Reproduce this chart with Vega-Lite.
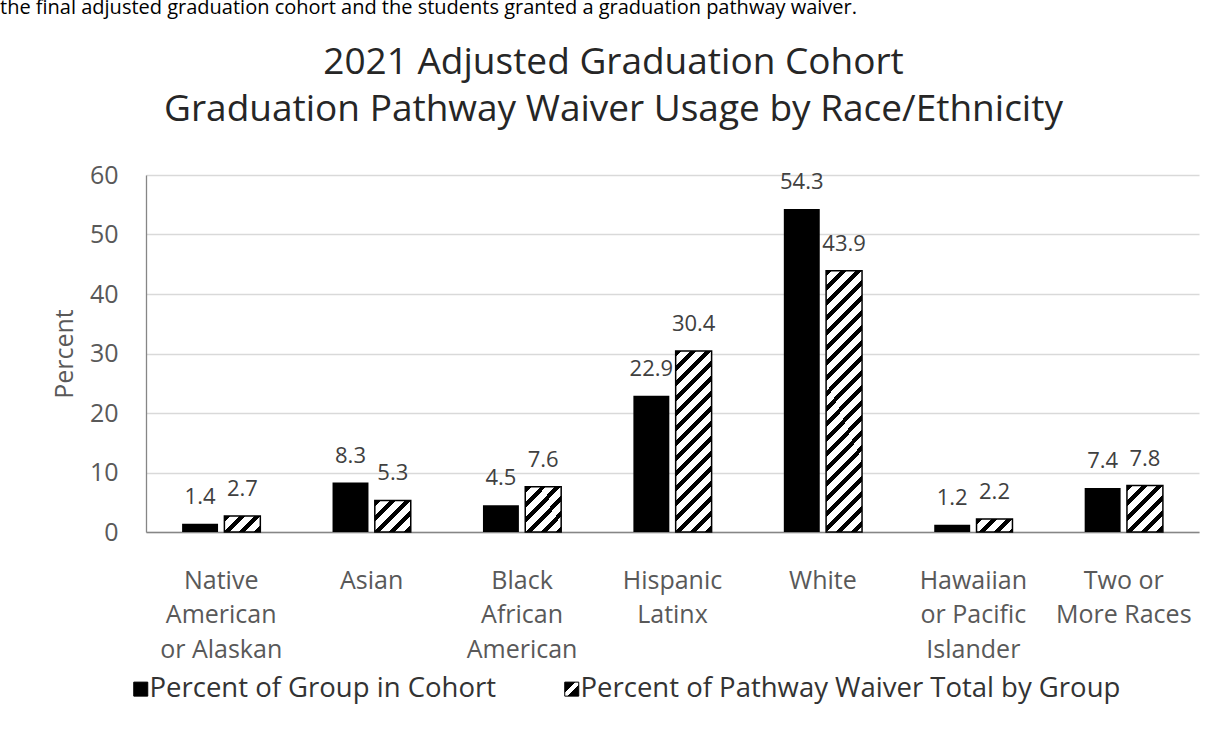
{
  "$schema": "https://vega.github.io/schema/vega-lite/v6.json",
  "width": 1053,
  "height": 357,
  "autosize": {"type": "none"},
  "padding": {"left": 146, "top": 175, "right": 23, "bottom": 223},
  "background": "white",
  "config": {"font": "Open Sans", "view": {"stroke": null}},
  "title": {
    "text": "the final adjusted graduation cohort and the students granted a graduation pathway waiver.",
    "anchor": "start", "frame": "group", "dx": -146, "offset": 25,
    "fontSize": 20, "fontWeight": "normal", "font": "Open Sans", "color": "#000000"
  },
  "data": {
    "values": [
      {"cat": "Native American or Alaskan", "series": "Percent of Group in Cohort", "value": 1.4},
      {"cat": "Asian", "series": "Percent of Group in Cohort", "value": 8.3},
      {"cat": "Black African American", "series": "Percent of Group in Cohort", "value": 4.5},
      {"cat": "Hispanic Latinx", "series": "Percent of Group in Cohort", "value": 22.9},
      {"cat": "White", "series": "Percent of Group in Cohort", "value": 54.3},
      {"cat": "Hawaiian or Pacific Islander", "series": "Percent of Group in Cohort", "value": 1.2},
      {"cat": "Two or More Races", "series": "Percent of Group in Cohort", "value": 7.4},
      {"cat": "Native American or Alaskan", "series": "Percent of Pathway Waiver Total by Group", "value": 2.7},
      {"cat": "Asian", "series": "Percent of Pathway Waiver Total by Group", "value": 5.3},
      {"cat": "Black African American", "series": "Percent of Pathway Waiver Total by Group", "value": 7.6},
      {"cat": "Hispanic Latinx", "series": "Percent of Pathway Waiver Total by Group", "value": 30.4},
      {"cat": "White", "series": "Percent of Pathway Waiver Total by Group", "value": 43.9},
      {"cat": "Hawaiian or Pacific Islander", "series": "Percent of Pathway Waiver Total by Group", "value": 2.2},
      {"cat": "Two or More Races", "series": "Percent of Pathway Waiver Total by Group", "value": 7.8}
    ]
  },
  "resolve": {"axis": {"x": "independent"}},
  "layer": [
    {
      "transform": [{"filter": "datum.series == 'Percent of Group in Cohort'"}],
      "mark": {"type": "bar"},
      "encoding": {
        "x": {
          "field": "cat", "type": "nominal",
          "scale": {"domain": ["Native American or Alaskan", "Asian", "Black African American", "Hispanic Latinx", "White", "Hawaiian or Pacific Islander", "Two or More Races"], "paddingInner": 0.48, "paddingOuter": 0.24},
          "axis": {
            "title": null, "labelAngle": 0,
            "labelExpr": "{'Native American or Alaskan': ['Native', 'American', 'or Alaskan'], 'Asian': 'Asian', 'Black African American': ['Black', 'African', 'American'], 'Hispanic Latinx': ['Hispanic', 'Latinx'], 'White': 'White', 'Hawaiian or Pacific Islander': ['Hawaiian', 'or Pacific', 'Islander'], 'Two or More Races': ['Two or', 'More Races']}[datum.value]",
            "labelFontSize": 25, "labelColor": "#595959", "labelLineHeight": 34.5, "labelPadding": 36, "labelBaseline": "top",
            "ticks": false, "domainColor": "#868686", "domainWidth": 1.3, "labelLimit": 300
          }
        },
        "xOffset": {"field": "series", "type": "nominal", "scale": {"domain": ["Percent of Group in Cohort", "Percent of Pathway Waiver Total by Group"], "paddingInner": 0.15}},
        "y": {
          "field": "value", "type": "quantitative",
          "scale": {"domain": [0, 60], "nice": false},
          "axis": {
            "title": "Percent", "titleFontSize": 25, "titleFontWeight": "normal", "titleColor": "#595959",
            "titleX": -74, "titleBaseline": "alphabetic",
            "values": [0, 10, 20, 30, 40, 50, 60],
            "labelFontSize": 25, "labelColor": "#595959", "labelPadding": 28,
            "ticks": false, "grid": true, "gridColor": "#d9d9d9", "gridWidth": 1.3,
            "domainColor": "#868686", "domainWidth": 1.3
          }
        },
        "fill": {
          "field": "series", "type": "nominal",
          "scale": {"domain": ["Percent of Group in Cohort", "Percent of Pathway Waiver Total by Group"], "range": ["#000000", "url(#hatchLeg)"]},
          "legend": {
            "title": null, "orient": "none", "legendX": -19, "legendY": 500, "direction": "horizontal",
            "symbolType": "square", "symbolSize": 196, "symbolStrokeColor": "#000000", "symbolStrokeWidth": 1,
            "labelFontSize": 27.5, "labelColor": "#333333", "labelOffset": -5, "columnPadding": 62, "labelLimit": 800
          }
        }
      }
    },
    {
      "transform": [{"filter": "datum.series == 'Percent of Pathway Waiver Total by Group'"}],
      "mark": {"type": "bar", "stroke": "#000000", "strokeWidth": 1.5},
      "encoding": {
        "x": {"field": "cat", "type": "nominal", "axis": null},
        "xOffset": {"field": "series", "type": "nominal"},
        "y": {"field": "value", "type": "quantitative"},
        "fill": {
          "condition": [
            {"test": "datum.cat == 'Native American or Alaskan'", "value": {"gradient": "linear", "x1": 0, "y1": 0, "x2": 1.206, "y2": 0.5377, "stops": [
              {"offset": 0, "color": "#000"}, {"offset": 0.1153, "color": "#000"}, {"offset": 0.1153, "color": "#fff"}, {"offset": 0.2882, "color": "#fff"},
              {"offset": 0.2882, "color": "#000"}, {"offset": 0.4035, "color": "#000"}, {"offset": 0.4035, "color": "#fff"}, {"offset": 0.5764, "color": "#fff"},
              {"offset": 0.5764, "color": "#000"}, {"offset": 0.6917, "color": "#000"}, {"offset": 0.6917, "color": "#fff"}, {"offset": 0.8646, "color": "#fff"},
              {"offset": 0.8646, "color": "#000"}, {"offset": 0.9799, "color": "#000"}, {"offset": 0.9799, "color": "#fff"}, {"offset": 1, "color": "#fff"}]}},
            {"test": "datum.cat == 'Asian'", "value": {"gradient": "linear", "x1": 0, "y1": 0, "x2": 1.0618, "y2": 0.9294, "stops": [
              {"offset": 0, "color": "#000"}, {"offset": 0.0889, "color": "#000"}, {"offset": 0.0889, "color": "#fff"}, {"offset": 0.2222, "color": "#fff"},
              {"offset": 0.2222, "color": "#000"}, {"offset": 0.3111, "color": "#000"}, {"offset": 0.3111, "color": "#fff"}, {"offset": 0.4444, "color": "#fff"},
              {"offset": 0.4444, "color": "#000"}, {"offset": 0.5333, "color": "#000"}, {"offset": 0.5333, "color": "#fff"}, {"offset": 0.6667, "color": "#fff"},
              {"offset": 0.6667, "color": "#000"}, {"offset": 0.7556, "color": "#000"}, {"offset": 0.7556, "color": "#fff"}, {"offset": 0.8889, "color": "#fff"},
              {"offset": 0.8889, "color": "#000"}, {"offset": 0.9778, "color": "#000"}, {"offset": 0.9778, "color": "#fff"}, {"offset": 1, "color": "#fff"}]}},
            {"test": "datum.cat == 'Black African American'", "value": {"gradient": "linear", "x1": 0, "y1": 0, "x2": 0.8757, "y2": 1.0991, "stops": [
              {"offset": 0, "color": "#000"}, {"offset": 0.0739, "color": "#000"}, {"offset": 0.0739, "color": "#fff"}, {"offset": 0.1848, "color": "#fff"},
              {"offset": 0.1848, "color": "#000"}, {"offset": 0.2587, "color": "#000"}, {"offset": 0.2587, "color": "#fff"}, {"offset": 0.3696, "color": "#fff"},
              {"offset": 0.3696, "color": "#000"}, {"offset": 0.4435, "color": "#000"}, {"offset": 0.4435, "color": "#fff"}, {"offset": 0.5543, "color": "#fff"},
              {"offset": 0.5543, "color": "#000"}, {"offset": 0.6282, "color": "#000"}, {"offset": 0.6282, "color": "#fff"}, {"offset": 0.7391, "color": "#fff"},
              {"offset": 0.7391, "color": "#000"}, {"offset": 0.8130, "color": "#000"}, {"offset": 0.8130, "color": "#fff"}, {"offset": 0.9239, "color": "#fff"},
              {"offset": 0.9239, "color": "#000"}, {"offset": 0.9978, "color": "#000"}, {"offset": 0.9978, "color": "#fff"}, {"offset": 1, "color": "#fff"}]}},
            {"test": "datum.cat == 'Hispanic Latinx'", "value": {"gradient": "linear", "x1": 0, "y1": 0, "x2": 0.2298, "y2": 1.1535, "stops": [
              {"offset": 0, "color": "#000"}, {"offset": 0.0277, "color": "#000"}, {"offset": 0.0277, "color": "#fff"}, {"offset": 0.0692, "color": "#fff"},
              {"offset": 0.0692, "color": "#000"}, {"offset": 0.0969, "color": "#000"}, {"offset": 0.0969, "color": "#fff"}, {"offset": 0.1384, "color": "#fff"},
              {"offset": 0.1384, "color": "#000"}, {"offset": 0.1661, "color": "#000"}, {"offset": 0.1661, "color": "#fff"}, {"offset": 0.2076, "color": "#fff"},
              {"offset": 0.2076, "color": "#000"}, {"offset": 0.2353, "color": "#000"}, {"offset": 0.2353, "color": "#fff"}, {"offset": 0.2768, "color": "#fff"},
              {"offset": 0.2768, "color": "#000"}, {"offset": 0.3045, "color": "#000"}, {"offset": 0.3045, "color": "#fff"}, {"offset": 0.3461, "color": "#fff"},
              {"offset": 0.3461, "color": "#000"}, {"offset": 0.3737, "color": "#000"}, {"offset": 0.3737, "color": "#fff"}, {"offset": 0.4153, "color": "#fff"},
              {"offset": 0.4153, "color": "#000"}, {"offset": 0.4429, "color": "#000"}, {"offset": 0.4429, "color": "#fff"}, {"offset": 0.4845, "color": "#fff"},
              {"offset": 0.4845, "color": "#000"}, {"offset": 0.5122, "color": "#000"}, {"offset": 0.5122, "color": "#fff"}, {"offset": 0.5537, "color": "#fff"},
              {"offset": 0.5537, "color": "#000"}, {"offset": 0.5814, "color": "#000"}, {"offset": 0.5814, "color": "#fff"}, {"offset": 0.6229, "color": "#fff"},
              {"offset": 0.6229, "color": "#000"}, {"offset": 0.6506, "color": "#000"}, {"offset": 0.6506, "color": "#fff"}, {"offset": 0.6921, "color": "#fff"},
              {"offset": 0.6921, "color": "#000"}, {"offset": 0.7198, "color": "#000"}, {"offset": 0.7198, "color": "#fff"}, {"offset": 0.7613, "color": "#fff"},
              {"offset": 0.7613, "color": "#000"}, {"offset": 0.7890, "color": "#000"}, {"offset": 0.7890, "color": "#fff"}, {"offset": 0.8305, "color": "#fff"},
              {"offset": 0.8305, "color": "#000"}, {"offset": 0.8582, "color": "#000"}, {"offset": 0.8582, "color": "#fff"}, {"offset": 0.8997, "color": "#fff"},
              {"offset": 0.8997, "color": "#000"}, {"offset": 0.9274, "color": "#000"}, {"offset": 0.9274, "color": "#fff"}, {"offset": 0.9689, "color": "#fff"},
              {"offset": 0.9689, "color": "#000"}, {"offset": 0.9966, "color": "#000"}, {"offset": 0.9966, "color": "#fff"}, {"offset": 1, "color": "#fff"}]}},
            {"test": "datum.cat == 'White'", "value": {"gradient": "linear", "x1": 0, "y1": 0, "x2": 0.1540, "y2": 1.1167, "stops": [
              {"offset": 0, "color": "#000"}, {"offset": 0.0202, "color": "#000"}, {"offset": 0.0202, "color": "#fff"}, {"offset": 0.0505, "color": "#fff"},
              {"offset": 0.0505, "color": "#000"}, {"offset": 0.0707, "color": "#000"}, {"offset": 0.0707, "color": "#fff"}, {"offset": 0.1010, "color": "#fff"},
              {"offset": 0.1010, "color": "#000"}, {"offset": 0.1212, "color": "#000"}, {"offset": 0.1212, "color": "#fff"}, {"offset": 0.1515, "color": "#fff"},
              {"offset": 0.1515, "color": "#000"}, {"offset": 0.1717, "color": "#000"}, {"offset": 0.1717, "color": "#fff"}, {"offset": 0.2020, "color": "#fff"},
              {"offset": 0.2020, "color": "#000"}, {"offset": 0.2222, "color": "#000"}, {"offset": 0.2222, "color": "#fff"}, {"offset": 0.2525, "color": "#fff"},
              {"offset": 0.2525, "color": "#000"}, {"offset": 0.2727, "color": "#000"}, {"offset": 0.2727, "color": "#fff"}, {"offset": 0.3030, "color": "#fff"},
              {"offset": 0.3030, "color": "#000"}, {"offset": 0.3232, "color": "#000"}, {"offset": 0.3232, "color": "#fff"}, {"offset": 0.3535, "color": "#fff"},
              {"offset": 0.3535, "color": "#000"}, {"offset": 0.3737, "color": "#000"}, {"offset": 0.3737, "color": "#fff"}, {"offset": 0.4041, "color": "#fff"},
              {"offset": 0.4041, "color": "#000"}, {"offset": 0.4243, "color": "#000"}, {"offset": 0.4243, "color": "#fff"}, {"offset": 0.4546, "color": "#fff"},
              {"offset": 0.4546, "color": "#000"}, {"offset": 0.4748, "color": "#000"}, {"offset": 0.4748, "color": "#fff"}, {"offset": 0.5051, "color": "#fff"},
              {"offset": 0.5051, "color": "#000"}, {"offset": 0.5253, "color": "#000"}, {"offset": 0.5253, "color": "#fff"}, {"offset": 0.5556, "color": "#fff"},
              {"offset": 0.5556, "color": "#000"}, {"offset": 0.5758, "color": "#000"}, {"offset": 0.5758, "color": "#fff"}, {"offset": 0.6061, "color": "#fff"},
              {"offset": 0.6061, "color": "#000"}, {"offset": 0.6263, "color": "#000"}, {"offset": 0.6263, "color": "#fff"}, {"offset": 0.6566, "color": "#fff"},
              {"offset": 0.6566, "color": "#000"}, {"offset": 0.6768, "color": "#000"}, {"offset": 0.6768, "color": "#fff"}, {"offset": 0.7071, "color": "#fff"},
              {"offset": 0.7071, "color": "#000"}, {"offset": 0.7273, "color": "#000"}, {"offset": 0.7273, "color": "#fff"}, {"offset": 0.7576, "color": "#fff"},
              {"offset": 0.7576, "color": "#000"}, {"offset": 0.7778, "color": "#000"}, {"offset": 0.7778, "color": "#fff"}, {"offset": 0.8081, "color": "#fff"},
              {"offset": 0.8081, "color": "#000"}, {"offset": 0.8283, "color": "#000"}, {"offset": 0.8283, "color": "#fff"}, {"offset": 0.8586, "color": "#fff"},
              {"offset": 0.8586, "color": "#000"}, {"offset": 0.8788, "color": "#000"}, {"offset": 0.8788, "color": "#fff"}, {"offset": 0.9091, "color": "#fff"},
              {"offset": 0.9091, "color": "#000"}, {"offset": 0.9293, "color": "#000"}, {"offset": 0.9293, "color": "#fff"}, {"offset": 0.9596, "color": "#fff"},
              {"offset": 0.9596, "color": "#000"}, {"offset": 0.9798, "color": "#000"}, {"offset": 0.9798, "color": "#fff"}, {"offset": 1, "color": "#fff"}]}},
            {"test": "datum.cat == 'Hawaiian or Pacific Islander'", "value": {"gradient": "linear", "x1": 0, "y1": 0, "x2": 1.2043, "y2": 0.4376, "stops": [
              {"offset": 0, "color": "#000"}, {"offset": 0.1222, "color": "#000"}, {"offset": 0.1222, "color": "#fff"}, {"offset": 0.3056, "color": "#fff"},
              {"offset": 0.3056, "color": "#000"}, {"offset": 0.4279, "color": "#000"}, {"offset": 0.4279, "color": "#fff"}, {"offset": 0.6112, "color": "#fff"},
              {"offset": 0.6112, "color": "#000"}, {"offset": 0.7335, "color": "#000"}, {"offset": 0.7335, "color": "#fff"}, {"offset": 0.9169, "color": "#fff"},
              {"offset": 0.9169, "color": "#000"}, {"offset": 1, "color": "#000"}]}}
          ],
          "value": {"gradient": "linear", "x1": 0, "y1": 0, "x2": 0.8605, "y2": 1.1083, "stops": [
            {"offset": 0, "color": "#000"}, {"offset": 0.0728, "color": "#000"}, {"offset": 0.0728, "color": "#fff"}, {"offset": 0.1821, "color": "#fff"},
            {"offset": 0.1821, "color": "#000"}, {"offset": 0.2550, "color": "#000"}, {"offset": 0.2550, "color": "#fff"}, {"offset": 0.3642, "color": "#fff"},
            {"offset": 0.3642, "color": "#000"}, {"offset": 0.4371, "color": "#000"}, {"offset": 0.4371, "color": "#fff"}, {"offset": 0.5463, "color": "#fff"},
            {"offset": 0.5463, "color": "#000"}, {"offset": 0.6192, "color": "#000"}, {"offset": 0.6192, "color": "#fff"}, {"offset": 0.7284, "color": "#fff"},
            {"offset": 0.7284, "color": "#000"}, {"offset": 0.8013, "color": "#000"}, {"offset": 0.8013, "color": "#fff"}, {"offset": 0.9105, "color": "#fff"},
            {"offset": 0.9105, "color": "#000"}, {"offset": 0.9833, "color": "#000"}, {"offset": 0.9833, "color": "#fff"}, {"offset": 1, "color": "#fff"}]}
        }
      }
    },
    {
      "mark": {"type": "text", "baseline": "alphabetic", "dy": -20, "fontSize": 22, "color": "#404040"},
      "encoding": {
        "x": {
          "field": "cat", "type": "nominal",
          "axis": {
            "orient": "top", "labels": false, "ticks": false, "domain": false, "grid": false,
            "title": ["2021 Adjusted Graduation Cohort", "Graduation Pathway Waiver Usage by Race/Ethnicity"],
            "titleFontSize": 37, "titleFontWeight": "normal", "titleColor": "#262626",
            "titleX": 467, "titleY": -102, "titleAlign": "center", "titleBaseline": "alphabetic", "titleLineHeight": 47
          }
        },
        "xOffset": {"field": "series", "type": "nominal"},
        "y": {"field": "value", "type": "quantitative"},
        "text": {"field": "value", "type": "quantitative", "format": ".1f"}
      }
    },
    {
      "transform": [{"filter": "datum.series == 'Percent of Group in Cohort'"}],
      "mark": {"type": "bar", "fill": {"gradient": "linear", "id": "hatchLeg", "x1": 0, "y1": 0, "x2": 1, "y2": 1, "stops": [
        {"offset": 0, "color": "#000"}, {"offset": 0.38, "color": "#000"}, {"offset": 0.38, "color": "#fff"}, {"offset": 0.6, "color": "#fff"},
        {"offset": 0.6, "color": "#000"}, {"offset": 1, "color": "#000"}]}},
      "encoding": {
        "x": {"field": "cat", "type": "nominal", "axis": null},
        "y": {"datum": 0},
        "y2": {"datum": 0}
      }
    }
  ]
}
